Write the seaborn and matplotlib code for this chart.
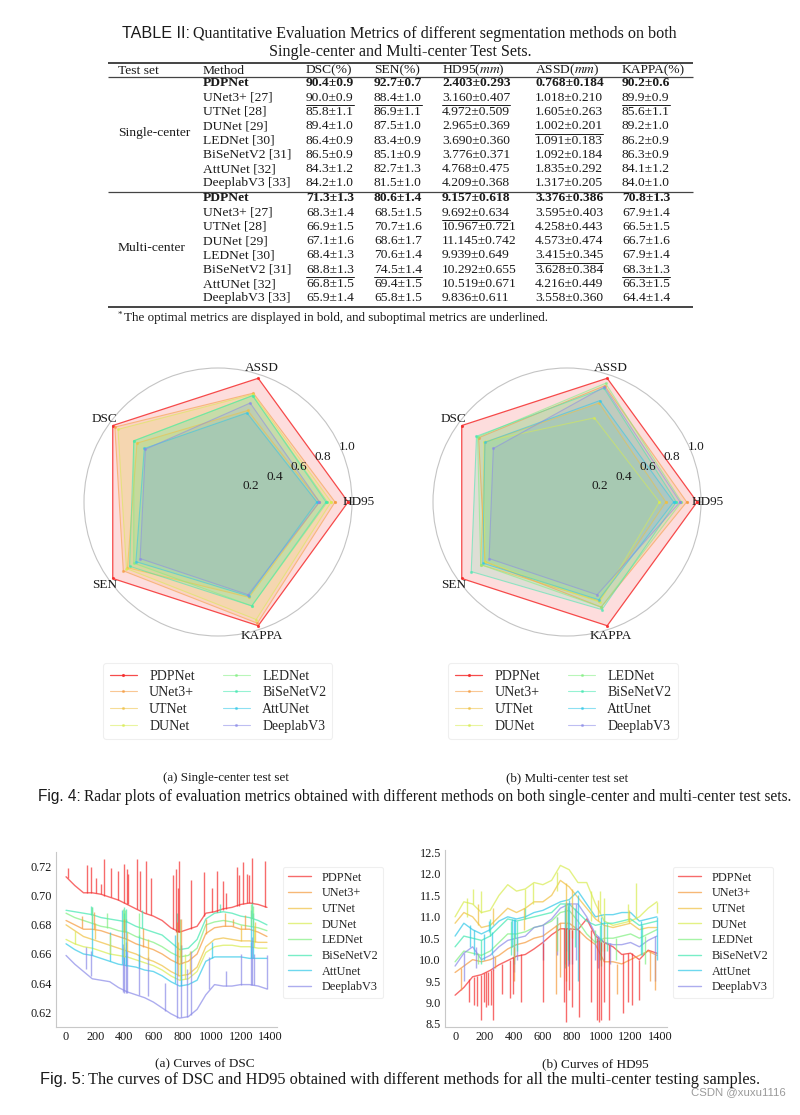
import numpy as np
import pandas as pd
import seaborn as sns
import matplotlib.pyplot as plt

# ---------------- Table II ----------------
TABLE_METHODS = ["PDPNet", "UNet3+ [27]", "UTNet [28]", "DUNet [29]", "LEDNet [30]",
                 "BiSeNetV2 [31]", "AttUNet [32]", "DeeplabV3 [33]"]
TABLE_HEADER = ["Test set", "Method", "DSC(%)", "SEN(%)", r"HD95($mm$)", r"ASSD($mm$)", "KAPPA(%)"]

S_DSC = ["90.4±0.9", "90.0±0.9", "85.8±1.1", "89.4±1.0", "86.4±0.9", "86.5±0.9", "84.3±1.2", "84.2±1.0"]
S_SEN = ["92.7±0.7", "88.4±1.0", "86.9±1.1", "87.5±1.0", "83.4±0.9", "85.1±0.9", "82.7±1.3", "81.5±1.0"]
S_HD95 = ["2.403±0.293", "3.160±0.407", "4.972±0.509", "2.965±0.369", "3.690±0.360", "3.776±0.371",
          "4.768±0.475", "4.209±0.368"]
S_ASSD = ["0.768±0.184", "1.018±0.210", "1.605±0.263", "1.002±0.201", "1.091±0.183", "1.092±0.184",
          "1.835±0.292", "1.317±0.205"]
S_KAPPA = ["90.2±0.6", "89.9±0.9", "85.6±1.1", "89.2±1.0", "86.2±0.9", "86.3±0.9", "84.1±1.2", "84.0±1.0"]

M_DSC = ["71.3±1.3", "68.3±1.4", "66.9±1.5", "67.1±1.6", "68.4±1.3", "68.8±1.3", "66.8±1.5", "65.9±1.4"]
M_SEN = ["80.6±1.4", "68.5±1.5", "70.7±1.6", "68.6±1.7", "70.6±1.4", "74.5±1.4", "69.4±1.5", "65.8±1.5"]
M_HD95 = ["9.157±0.618", "9.692±0.634", "10.967±0.721", "11.145±0.742", "9.939±0.649", "10.292±0.655",
          "10.519±0.671", "9.836±0.611"]
M_ASSD = ["3.376±0.386", "3.595±0.403", "4.258±0.443", "4.573±0.474", "3.415±0.345", "3.628±0.384",
          "4.216±0.449", "3.558±0.360"]
M_KAPPA = ["70.8±1.3", "67.9±1.4", "66.5±1.5", "66.7±1.6", "67.9±1.4", "68.3±1.3", "66.3±1.5", "64.4±1.4"]

# (row, metric column) of underlined (sub-optimal) cells
S_UNDERLINE = [(1, 0), (1, 1), (1, 2), (3, 3), (1, 4)]
M_UNDERLINE = [(5, 0), (5, 1), (1, 2), (4, 3), (5, 4)]

# ---------------- Fig. 4 radar data (normalised) ----------------
RADAR_AXES = ["HD95", "ASSD", "DSC", "SEN", "KAPPA"]
RADAR_ANGLES_DEG = [0, 72, 144, 216, 288]
RADAR_METHODS_A = ["PDPNet", "UNet3+", "UTNet", "DUNet", "LEDNet", "BiSeNetV2", "AttUNet", "DeeplabV3"]
RADAR_METHODS_B = ["PDPNet", "UNet3+", "UTNet", "DUNet", "LEDNet", "BiSeNetV2", "AttUnet", "DeeplabV3"]
RADAR_SINGLE = [
    [1.00, 1.00, 1.00, 1.00, 1.00],
    [0.90, 0.88, 0.98, 0.90, 0.98],
    [0.78, 0.74, 0.77, 0.86, 0.77],
    [0.87, 0.87, 0.95, 0.87, 0.95],
    [0.84, 0.86, 0.80, 0.80, 0.84],
    [0.83, 0.86, 0.80, 0.84, 0.84],
    [0.76, 0.72, 0.70, 0.78, 0.76],
    [0.78, 0.80, 0.69, 0.74, 0.75],
]
RADAR_MULTI = [
    [1.00, 1.00, 1.00, 1.00, 1.00],
    [0.92, 0.94, 0.84, 0.78, 0.85],
    [0.76, 0.80, 0.78, 0.82, 0.80],
    [0.71, 0.68, 0.79, 0.78, 0.81],
    [0.88, 0.96, 0.85, 0.82, 0.85],
    [0.84, 0.92, 0.86, 0.91, 0.87],
    [0.82, 0.82, 0.78, 0.80, 0.79],
    [0.87, 0.93, 0.70, 0.74, 0.75],
]
RADAR_TICKS = [0.2, 0.4, 0.6, 0.8, 1.0]

# ---------------- Fig. 5 curves (baseline read every 60 samples + spikes) ----------------
CURVE_METHODS = ["PDPNet", "UNet3+", "UTNet", "DUNet", "LEDNet", "BiSeNetV2", "AttUnet", "DeeplabV3"]
SAMPLE_X = [0, 60, 120, 180, 240, 300, 360, 420, 480, 540, 600, 660,
            720, 780, 840, 900, 960, 1020, 1080, 1140, 1200, 1260, 1320, 1380]

DSC_BASE = [
    [.713, .707, .702, .702, .701, .699, .697, .694, .691, .688, .686, .683,
     .678, .675, .677, .679, .688, .689, .691, .692, .694, .695, .694, .692],
    [.683, .680, .677, .677, .676, .674, .672, .670, .667, .665, .663, .660,
     .656, .653, .655, .660, .674, .678, .679, .679, .677, .677, .675, .672],
    [.680, .676, .672, .670, .668, .666, .664, .662, .660, .657, .655, .652,
     .648, .645, .646, .651, .665, .670, .671, .670, .669, .669, .668, .668],
    [.670, .667, .665, .664, .662, .660, .659, .658, .656, .654, .652, .649,
     .645, .642, .643, .648, .661, .665, .666, .666, .665, .665, .664, .664],
    [.688, .685, .683, .681, .679, .678, .676, .675, .672, .670, .668, .665,
     .661, .658, .659, .664, .680, .682, .683, .682, .680, .679, .678, .676],
    [.690, .689, .688, .687, .685, .684, .683, .682, .679, .677, .675, .673,
     .668, .663, .664, .670, .684, .688, .689, .688, .686, .685, .683, .680],
    [.667, .663, .660, .659, .657, .655, .653, .652, .651, .649, .648, .645,
     .641, .638, .639, .642, .655, .658, .658, .658, .658, .657, .657, .657],
    [.659, .653, .648, .643, .642, .641, .637, .634, .632, .630, .627, .623,
     .619, .616, .617, .622, .632, .639, .638, .638, .639, .639, .638, .636],
]
# spikes: (sample, curve value, spike tip)
DSC_SPIKES = [
    [(16, .712, .719), (142, .702, .721), (172, .702, .720), (204, .702, .712), (238, .701, .708),
     (261, .700, .725), (309, .699, .719), (359, .697, .717), (398, .695, .722), (418, .694, .718),
     (428, .694, .715), (485, .691, .725), (508, .690, .717), (549, .688, .724), (581, .687, .712),
     (737, .677, .714), (755, .675, .718), (768, .675, .705), (778, .675, .724), (856, .677, .711),
     (947, .686, .716), (1000, .689, .705), (1034, .689, .717), (1080, .690, .710), (1100, .691, .702),
     (1171, .693, .720), (1185, .693, .714), (1213, .694, .723), (1240, .695, .715), (1258, .695, .714),
     (1279, .695, .726), (1366, .692, .724)],
    [(110, .678, .686), (190, .677, .689), (400, .671, .684), (530, .665, .678), (760, .654, .682),
     (790, .653, .684), (960, .674, .684), (1090, .679, .688), (1150, .679, .684), (1230, .677, .687)],
    [(200, .670, .681), (420, .662, .675), (560, .656, .670), (770, .645, .668), (850, .646, .662),
     (1200, .669, .680), (1300, .668, .682)],
    [(60, .667, .676), (300, .660, .673), (400, .658, .671), (780, .642, .663), (820, .643, .660),
     (1290, .665, .679)],
    [(176, .681, .692), (280, .678, .688), (390, .675, .691), (405, .675, .690), (500, .672, .688),
     (780, .658, .684), (1270, .679, .694), (1285, .679, .693)],
    [(170, .687, .693), (395, .682, .692), (410, .682, .691), (520, .678, .690), (760, .663, .688),
     (1060, .689, .694), (1275, .685, .696)],
    [(176, .659, .692), (300, .655, .675), (385, .653, .690), (395, .653, .688), (415, .652, .684),
     (500, .651, .673), (750, .640, .673), (790, .638, .666), (1000, .657, .668), (1270, .657, .690),
     (1285, .657, .688)],
    [(140, .650, .665), (170, .645, .662), (390, .634, .667), (400, .633, .665), (410, .633, .668),
     (420, .633, .662), (500, .632, .660), (560, .631, .658), (680, .621, .640), (760, .616, .663),
     (790, .617, .666), (830, .617, .650), (860, .618, .662), (980, .636, .658), (1100, .638, .648),
     (1200, .639, .660), (1270, .639, .668), (1280, .639, .672), (1290, .639, .660), (1380, .636, .659)],
]

HD95_BASE = [
    [9.17, 9.35, 9.60, 9.65, 9.75, 9.88, 9.98, 10.08, 10.12, 10.25, 10.40, 10.58,
     10.72, 10.72, 10.70, 10.95, 10.55, 10.40, 10.30, 10.12, 10.15, 10.00, 10.22, 10.15],
    [9.70, 9.85, 10.00, 9.95, 10.00, 10.10, 10.25, 10.35, 10.40, 10.50, 10.55, 10.70,
     10.85, 10.85, 10.70, 10.50, 10.35, 9.95, 9.95, 9.90, 10.00, 10.10, 10.20, 10.10],
    [10.85, 11.10, 11.00, 10.75, 10.80, 11.00, 11.20, 11.10, 11.20, 11.35, 11.35, 11.50,
     11.85, 11.70, 11.45, 11.20, 10.95, 10.80, 10.75, 10.80, 10.85, 10.70, 10.75, 10.75],
    [11.00, 11.35, 11.30, 11.10, 11.15, 11.50, 11.75, 11.60, 11.65, 11.80, 11.75, 11.85,
     12.20, 12.10, 11.80, 11.80, 11.30, 10.90, 10.80, 10.85, 10.90, 11.00, 11.20, 11.35],
    [9.95, 10.20, 10.15, 10.10, 10.20, 10.40, 10.60, 10.60, 10.65, 10.75, 10.80, 10.90,
     11.10, 11.15, 10.90, 10.60, 10.40, 10.50, 10.50, 10.55, 10.60, 10.50, 10.60, 10.70],
    [10.30, 10.55, 10.50, 10.45, 10.55, 10.75, 10.95, 10.90, 10.95, 11.00, 11.05, 11.10,
     11.30, 11.30, 11.10, 10.90, 10.80, 10.85, 10.85, 10.90, 10.95, 10.80, 10.85, 10.90],
    [10.55, 10.85, 10.70, 10.60, 10.70, 10.90, 11.00, 10.95, 11.00, 11.10, 11.15, 11.25,
     11.35, 11.40, 11.60, 11.30, 11.00, 11.05, 11.05, 11.10, 11.10, 10.90, 10.95, 11.00],
    [9.85, 10.15, 10.30, 10.00, 10.10, 10.30, 10.45, 10.50, 10.55, 10.75, 10.80, 10.95,
     11.20, 11.30, 11.30, 11.00, 10.60, 10.40, 10.35, 10.35, 10.40, 10.30, 10.45, 10.55],
]
HD95_SPIKES = [
    [(95, 9.55, 9.0), (130, 9.60, 8.95), (150, 9.62, 8.92), (180, 9.65, 8.6), (195, 9.68, 9.0),
     (210, 9.70, 8.9), (225, 9.72, 8.95), (245, 9.75, 8.95), (262, 9.78, 8.6), (320, 9.90, 9.2),
     (375, 10.00, 9.1), (395, 10.05, 9.2), (450, 10.12, 9.0), (600, 10.40, 9.0), (745, 10.75, 9.0),
     (760, 10.75, 8.55), (780, 10.72, 9.3), (800, 10.70, 8.9), (850, 10.70, 8.65), (930, 10.70, 9.0),
     (970, 10.50, 8.6), (985, 10.45, 8.55), (1000, 10.42, 8.6), (1020, 10.40, 9.0), (1050, 10.35, 8.6),
     (1150, 10.12, 8.75), (1185, 10.15, 9.0), (1210, 10.15, 8.95), (1260, 10.00, 9.05)],
    [(40, 9.80, 9.3), (270, 10.05, 9.8), (400, 10.30, 9.5), (690, 10.80, 9.2), (720, 10.85, 9.6),
     (760, 10.85, 9.5), (1110, 9.90, 9.2), (1330, 10.20, 9.5), (1370, 10.10, 9.3)],
    [(160, 10.80, 11.3), (260, 10.80, 11.2), (470, 11.20, 10.7), (760, 11.80, 10.8), (800, 11.65, 10.5),
     (980, 10.90, 11.4), (1020, 10.80, 10.2), (1190, 10.85, 11.15)],
    [(80, 11.45, 11.0), (120, 11.30, 11.65), (180, 11.10, 11.6), (480, 11.65, 11.2), (530, 11.80, 11.3),
     (700, 12.05, 11.6), (930, 11.60, 10.9), (990, 11.10, 11.6), (1020, 10.90, 11.45),
     (1180, 10.90, 11.3), (1240, 10.95, 11.8), (1380, 11.35, 11.1)],
    [(160, 10.15, 9.9), (400, 10.60, 10.0), (700, 11.00, 10.2), (960, 10.40, 10.7), (1000, 10.45, 9.85),
     (1100, 10.50, 10.0), (1300, 10.55, 9.9)],
    [(180, 10.45, 9.9), (240, 10.55, 10.95), (380, 10.90, 10.1), (420, 10.90, 10.2), (480, 10.95, 11.2),
     (750, 11.30, 9.8), (770, 11.30, 10.0), (820, 11.20, 10.3), (990, 10.80, 10.0), (1040, 10.85, 10.2),
     (1280, 10.80, 10.1)],
    [(100, 10.80, 10.3), (130, 10.70, 10.1), (200, 10.60, 10.0), (230, 10.65, 10.9), (250, 10.65, 10.1),
     (390, 10.95, 10.3), (400, 10.95, 9.9), (410, 10.95, 10.5), (760, 11.35, 10.2), (780, 11.40, 9.9),
     (840, 11.50, 9.5), (1000, 11.00, 10.2), (1020, 11.05, 10.0), (1270, 10.90, 10.1), (1380, 11.00, 10.0)],
    [(60, 10.15, 9.5), (140, 10.30, 9.8), (260, 10.10, 9.75), (400, 10.50, 9.7), (420, 10.50, 10.0),
     (600, 10.80, 10.0), (700, 11.00, 10.1), (750, 11.20, 9.9), (770, 11.25, 9.85), (800, 11.30, 9.9),
     (830, 11.30, 10.0), (960, 10.60, 10.0), (980, 10.55, 9.8), (1060, 10.40, 9.9), (1370, 10.55, 9.5)],
]

# ---------------- styling ----------------
sns.set_theme(style="white")
plt.rcParams['font.family'] = ['Liberation Serif', 'DejaVu Serif']
plt.rcParams['mathtext.fontset'] = 'stix'
SANS = ['Liberation Sans', 'DejaVu Sans']
INK = '#1a1a1a'
COLORS = sns.color_palette(['#f52d2d', '#f59a3c', '#f0c040', '#d8ec50',
                            '#80f080', '#40e8b0', '#30c8e8', '#8a8ae8'])

W, H = 800, 1115
fig = plt.figure(figsize=(W / 100, H / 100), dpi=100)

# full-page axes in pixel units for the table and captions
page = fig.add_axes([0, 0, 1, 1])
page.set_xlim(0, W)
page.set_ylim(H, 0)
page.axis('off')


def px_axes(left, top, right, bottom, **kw):
    return fig.add_axes([left / W, 1 - bottom / H, (right - left) / W, (bottom - top) / H], **kw)


# ---------------- table ----------------
t_tab = page.text(122, 38, "TABLE II:", family=SANS, fontsize=11.6, va='baseline', color=INK)
tab_title_rest = "Quantitative Evaluation Metrics of different segmentation methods on both"
page.text(400, 56.5, "Single-center and Multi-center Test Sets.", fontsize=11.6,
          ha='center', va='baseline', color=INK)

COL_X = [118, 203, 306, 374, 442, 535, 622]
RULE_L, RULE_R = 108, 693
page.hlines([62.7, 306.7], RULE_L, RULE_R, color='#444444', lw=1.4)
page.hlines([77.3, 191.7], RULE_L, RULE_R, color='#444444', lw=0.9)

for x, h in zip(COL_X, TABLE_HEADER):
    page.text(x, 70.7, h, fontsize=9.7, va='center', color=INK)

ROW_H = 14.3
under_texts = []
for y0, cols, under, label in [
        (83.3, [S_DSC, S_SEN, S_HD95, S_ASSD, S_KAPPA], S_UNDERLINE, "Single-center"),
        (198.3, [M_DSC, M_SEN, M_HD95, M_ASSD, M_KAPPA], M_UNDERLINE, "Multi-center")]:
    page.text(COL_X[0], y0 + 3.5 * ROW_H, label, fontsize=9.7, va='center', color=INK)
    for i, m in enumerate(TABLE_METHODS):
        y = y0 + i * ROW_H
        bold = 'bold' if i == 0 else 'normal'
        page.text(COL_X[1], y, m, fontsize=9.7, va='center', weight=bold, color=INK)
        for j, col in enumerate(cols):
            t = page.text(COL_X[2 + j], y, col[i], fontsize=9.7, va='center', weight=bold, color=INK)
            if (i, j) in under:
                under_texts.append((t, y))

page.text(118, 315, "*", fontsize=6.5, va='center', color=INK)
page.text(124, 318, "The optimal metrics are displayed in bold, and suboptimal metrics are underlined.",
          fontsize=9.4, va='center', color=INK)

# ---------------- Fig. 4: radar plots ----------------
angles = np.deg2rad(RADAR_ANGLES_DEG)
ang_closed = np.append(angles, angles[0])


def radar(ax, values, names):
    for vals, c in zip(values, COLORS):
        v = np.append(vals, vals[0])
        ax.fill(ang_closed, v, color=c, alpha=0.16, lw=0, zorder=1)
    for k, (vals, name, c) in enumerate(zip(values, names, COLORS)):
        v = np.append(vals, vals[0])
        ax.plot(ang_closed, v, color=c, lw=0.9 if k == 0 else 0.8, alpha=0.85 if k == 0 else 0.55,
                marker='.', ms=2.5, label=name, zorder=2)
    ax.set_ylim(0, 1.03)
    ax.set_yticks(RADAR_TICKS)
    ax.set_yticklabels([f"{t:.1f}" for t in RADAR_TICKS], fontsize=9.5, color=INK)
    ax.set_rlabel_position(22)
    ax.set_xticks(angles)
    ax.set_xticklabels([])
    ax.grid(False)
    ax.set_axisbelow(False)
    ax.spines['polar'].set_color('#c4c4c4')
    ax.spines['polar'].set_linewidth(0.8)
    ax.set_facecolor('none')
    for a, lab in zip(angles, RADAR_AXES):
        ax.text(a, 1.08, lab, fontsize=9.5, ha='center', va='center', color=INK, zorder=5)


ax_ra = px_axes(84, 368, 352, 636, projection='polar')
radar(ax_ra, RADAR_SINGLE, RADAR_METHODS_A)
ax_rb = px_axes(433, 368, 701, 636, projection='polar')
radar(ax_rb, RADAR_MULTI, RADAR_METHODS_B)

for ax, left in [(ax_ra, 103.3), (ax_rb, 448.4)]:
    h, l = ax.get_legend_handles_labels()
    leg = ax.legend(h, l, ncol=2, loc='upper left', bbox_to_anchor=(left / W, 1 - 663.3 / H),
                    bbox_transform=fig.transFigure, fontsize=10, frameon=True, fancybox=True,
                    edgecolor='#ececec', handlelength=2.0, handletextpad=0.85, columnspacing=2.0,
                    labelspacing=0.27, borderpad=0.45, borderaxespad=0)
    leg.get_frame().set_linewidth(0.8)

page.text(226, 778, "(a) Single-center test set", fontsize=9.4, ha='center', va='center', color=INK)
page.text(567, 778, "(b) Multi-center test set", fontsize=9.4, ha='center', va='center', color=INK)
t_fig4 = page.text(38, 801, "Fig. 4:", family=SANS, fontsize=11.2, va='baseline', color=INK)
fig4_rest = "Radar plots of evaluation metrics obtained with different methods on both single-center and multi-center test sets."

# ---------------- Fig. 5: curves ----------------


def curves(ax, base, spikes, ylim, yticks, fmt):
    df = pd.DataFrame([(x, v, m) for m, row in zip(CURVE_METHODS, base) for x, v in zip(SAMPLE_X, row)],
                      columns=['sample', 'value', 'method'])
    sns.lineplot(data=df, x='sample', y='value', hue='method', hue_order=CURVE_METHODS,
                 palette=COLORS, lw=1.0, alpha=0.7, ax=ax, legend=True)
    for k in reversed(range(len(CURVE_METHODS))):
        sp = spikes[k]
        ax.vlines([s[0] for s in sp], [s[1] for s in sp], [s[2] for s in sp],
                  colors=[COLORS[k]], lw=1.0, alpha=0.7)
    ax.set_xlim(-69, 1449)
    ax.set_ylim(*ylim)
    ax.set_xticks([0, 200, 400, 600, 800, 1000, 1200, 1400])
    ax.set_yticks(yticks)
    ax.set_yticklabels([fmt.format(t) for t in yticks])
    ax.set_xlabel("")
    ax.set_ylabel("")
    ax.tick_params(labelsize=8.8, length=0, pad=3, colors=INK)
    sns.despine(ax=ax)
    for s in ['left', 'bottom']:
        ax.spines[s].set_color('#c8c8c8')
        ax.spines[s].set_linewidth(0.8)
    ax.set_facecolor('none')


ax_dsc = px_axes(56, 852, 277, 1027)
curves(ax_dsc, DSC_BASE, DSC_SPIKES, (0.6099, 0.730), [0.62, 0.64, 0.66, 0.68, 0.70, 0.72], "{:.2f}")
ax_hd = px_axes(445, 850, 667, 1027.3)
curves(ax_hd, HD95_BASE, HD95_SPIKES, (8.42, 12.56), [8.5, 9.0, 9.5, 10.0, 10.5, 11.0, 11.5, 12.0, 12.5],
       "{:.1f}")

for ax, left in [(ax_dsc, 282.7), (ax_hd, 672.7)]:
    h, l = ax.get_legend_handles_labels()
    leg = ax.legend(h, l, loc='upper left', bbox_to_anchor=(left / W, 1 - 866.7 / H),
                    bbox_transform=fig.transFigure, fontsize=8.8, frameon=True, fancybox=True,
                    edgecolor='#ececec', handlelength=1.9, handletextpad=0.9, labelspacing=0.3,
                    borderpad=0.4, borderaxespad=0)
    leg.get_frame().set_linewidth(0.8)

page.text(205, 1064, "(a) Curves of DSC", fontsize=9.5, ha='center', va='center', color=INK)
page.text(595, 1064, "(b) Curves of HD95", fontsize=9.5, ha='center', va='center', color=INK)
t_fig5 = page.text(40, 1084, "Fig. 5:", family=SANS, fontsize=11.8, va='baseline', color=INK)
fig5_rest = "The curves of DSC and HD95 obtained with different methods for all the multi-center testing samples."
page.text(786, 1092, "CSDN @xuxu1116", family=SANS, fontsize=8.2, ha='right', va='center', color='#9a9a9a')

# ---------------- measured pieces (mixed fonts, underlines) ----------------
fig.canvas.draw()
rend = fig.canvas.get_renderer()
for t, rest in [(t_tab, tab_title_rest), (t_fig4, fig4_rest), (t_fig5, fig5_rest)]:
    bb = t.get_window_extent(rend)
    page.text(bb.x1 + 3, t.get_position()[1], rest, fontsize=t.get_fontsize(), va='baseline', color=INK)
for t, y in under_texts:
    bb = t.get_window_extent(rend)
    page.plot([bb.x0, bb.x1], [y + 7.3, y + 7.3], color=INK, lw=0.7)

fig.savefig("out.png", dpi=100)
